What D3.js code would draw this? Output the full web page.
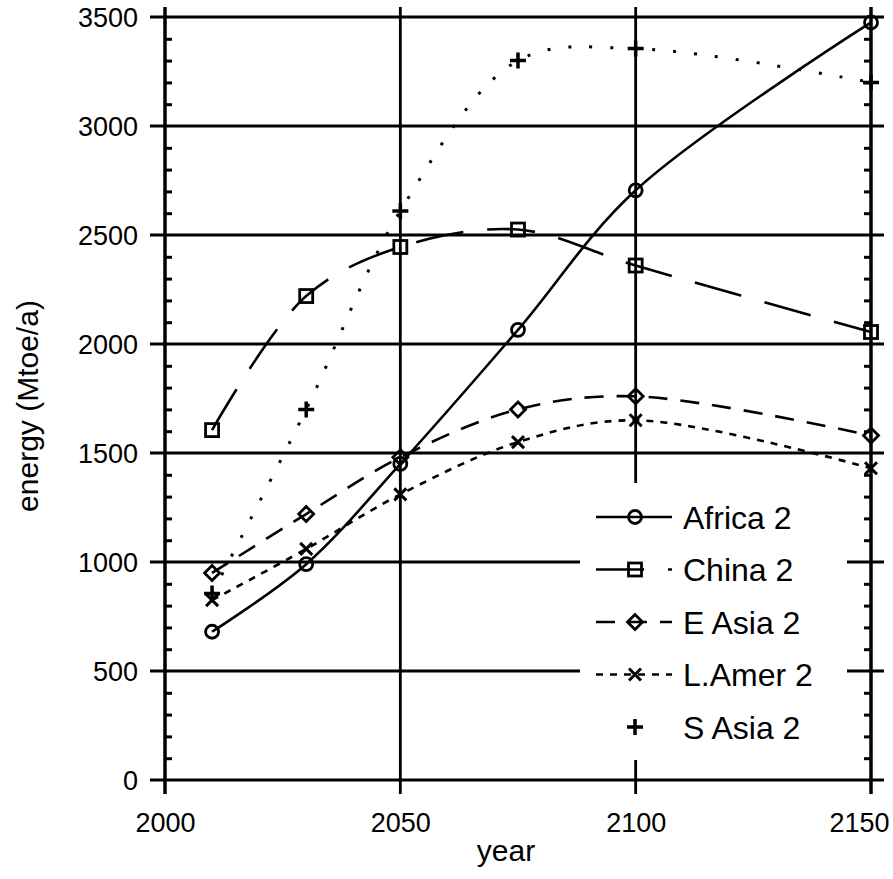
<!DOCTYPE html>
<html>
<head>
<meta charset="utf-8">
<script src="https://cdn.jsdelivr.net/npm/d3@7"></script>
<style>
  body { margin: 0; background: #fff; }
  text { font-family: "Liberation Sans", Arial, sans-serif; fill: #000; }
</style>
</head>
<body>
<script>
// data
const years = [2010, 2030, 2050, 2075, 2100, 2150]
const names = ["Africa 2", "China 2", "E Asia 2", "L.Amer 2", "S Asia 2"]
const africa = [680, 990, 1450, 2065, 2705, 3475]
const china = [1605, 2220, 2445, 2525, 2360, 2055]
const eAsia = [950, 1220, 1480, 1700, 1760, 1580]
const lAmer = [825, 1060, 1310, 1550, 1650, 1430]
const sAsia = [855, 1700, 2610, 3300, 3355, 3200]
const yTicks = [0, 500, 1000, 1500, 2000, 2500, 3000, 3500]
const xTicks = [2000, 2050, 2100, 2150]

const W = 893, H = 879
const x = d3.scaleLinear().domain([2000, 2150]).range([165, 871])
const y = d3.scaleLinear().domain([0, 3500]).range([780, 17])

const svg = d3.select("body").append("svg").attr("width", W).attr("height", H)

// gridlines (horizontal run a bit past both axes, like major ticks)
svg.append("g").selectAll("line").data(yTicks).enter().append("line")
  .attr("x1", 150).attr("x2", 884)
  .attr("y1", d => y(d)).attr("y2", d => y(d))
  .attr("stroke", "#000").attr("stroke-width", 3)

svg.append("g").selectAll("line").data(xTicks).enter().append("line")
  .attr("x1", d => x(d)).attr("x2", d => x(d))
  .attr("y1", 7).attr("y2", 794)
  .attr("stroke", "#000").attr("stroke-width", d => (d == 2000 || d == 2150) ? 3.5 : 2.8)

// minor ticks every 100, pointing inside on both sides
const minor = d3.range(0, 3501, 100).filter(v => v % 500 != 0)
svg.append("g").attr("transform", "translate(" + x(2000) + ",0)")
  .call(d3.axisRight(y).tickValues(minor).tickSize(7).tickFormat(""))
  .call(g => g.select(".domain").remove())
  .selectAll("line").attr("stroke-width", 3)
svg.append("g").attr("transform", "translate(" + x(2150) + ",0)")
  .call(d3.axisLeft(y).tickValues(minor).tickSize(7).tickFormat(""))
  .call(g => g.select(".domain").remove())
  .selectAll("line").attr("stroke-width", 3)

// tick labels
const yAxis = svg.append("g").attr("transform", "translate(" + x(2000) + ",0)")
  .call(d3.axisLeft(y).tickValues(yTicks).tickFormat(d3.format("d")).tickSize(0).tickPadding(27))
yAxis.select(".domain").remove()
yAxis.selectAll("text").style("font-size", "27px").attr("dy", "0.36em")

const xAxis = svg.append("g").attr("transform", "translate(0," + y(0) + ")")
  .call(d3.axisBottom(x).tickValues(xTicks).tickFormat(d3.format("d")).tickSize(0).tickPadding(33))
xAxis.select(".domain").remove()
xAxis.selectAll("text").style("font-size", "27px")
  .filter(d => d == 2150).attr("text-anchor", "end").attr("x", 889 - x(2150))

svg.append("text").attr("x", 506).attr("y", 861).attr("text-anchor", "middle")
  .style("font-size", "30px").text("year")
svg.append("text").attr("transform", "translate(38,406) rotate(-90)")
  .attr("text-anchor", "middle").style("font-size", "30px").text("energy (Mtoe/a)")

// series
const series = [
  { name: names[0], values: africa, dash: null, mark: "circle" },
  { name: names[1], values: china, dash: "48,24", mark: "square" },
  { name: names[2], values: eAsia, dash: "19,13", mark: "diamond" },
  { name: names[3], values: lAmer, dash: "7,7", mark: "x" },
  { name: names[4], values: sAsia, dash: "3,18", mark: "plus" }
]

const line = d3.line().x(d => x(d.year)).y(d => y(d.v)).curve(d3.curveCatmullRom.alpha(0.5))

function drawMark(g, kind, cx, cy) {
  if (kind == "circle") {
    g.append("circle").attr("cx", cx).attr("cy", cy).attr("r", 6.5)
      .attr("fill", "none").attr("stroke", "#000").attr("stroke-width", 2.8)
  } else if (kind == "square") {
    g.append("rect").attr("x", cx - 6.5).attr("y", cy - 6.5).attr("width", 13).attr("height", 13)
      .attr("fill", "none").attr("stroke", "#000").attr("stroke-width", 2.8)
  } else if (kind == "diamond") {
    g.append("path").attr("d", "M" + cx + "," + (cy - 7.5) + "L" + (cx + 7.5) + "," + cy + "L" + cx + "," + (cy + 7.5) + "L" + (cx - 7.5) + "," + cy + "Z")
      .attr("fill", "none").attr("stroke", "#000").attr("stroke-width", 2.8)
  } else if (kind == "x") {
    g.append("path").attr("d", "M" + (cx - 6) + "," + (cy - 6) + "L" + (cx + 6) + "," + (cy + 6) + "M" + (cx + 6) + "," + (cy - 6) + "L" + (cx - 6) + "," + (cy + 6))
      .attr("stroke", "#000").attr("stroke-width", 3)
  } else {
    g.append("path").attr("d", "M" + (cx - 8) + "," + cy + "L" + (cx + 8) + "," + cy + "M" + cx + "," + (cy - 8) + "L" + cx + "," + (cy + 8))
      .attr("stroke", "#000").attr("stroke-width", 3.5)
  }
}

series.forEach(function (s) {
  const pts = years.map((yr, i) => ({ year: yr, v: s.values[i] }))
  svg.append("path").datum(pts).attr("d", line)
    .attr("fill", "none").attr("stroke", "#000").attr("stroke-width", s.mark == "plus" ? 3 : 2.6)
    .attr("stroke-dasharray", s.dash)
  const g = svg.append("g")
  pts.forEach(p => drawMark(g, s.mark, x(p.year), y(p.v)))
})

// legend
svg.append("rect").attr("x", 580).attr("y", 483).attr("width", 267).attr("height", 277).attr("fill", "#fff")
series.forEach(function (s, i) {
  const ly = 517 + i * 52.5
  const g = svg.append("g")
  if (s.mark != "plus") {
    g.append("line").attr("x1", 596).attr("x2", 672).attr("y1", ly).attr("y2", ly)
      .attr("stroke", "#000").attr("stroke-width", 2.6).attr("stroke-dasharray", s.dash)
  }
  drawMark(g, s.mark, 635, ly)
  g.append("text").attr("x", 683).attr("y", ly).attr("dy", "0.36em")
    .style("font-size", "32px").text(s.name)
})
</script>
</body>
</html>
